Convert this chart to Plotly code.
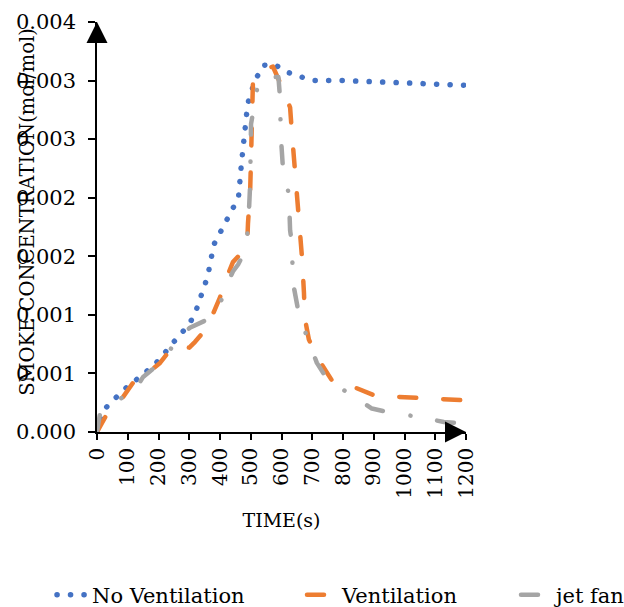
import plotly.graph_objects as go

# ---- data ----
t_no_vent = [0, 30, 60, 100, 150, 200, 250, 300, 320, 340, 360, 380, 400, 420, 440, 460,
             470, 480, 490, 505, 520, 540, 575, 620, 660, 700, 800, 900, 1000, 1100, 1200]
no_vent = [0, 0.00021, 0.00029, 0.00039, 0.00049, 0.00061, 0.00077, 0.00092, 0.00102, 0.00118,
           0.00133, 0.0016, 0.00171, 0.0018, 0.0019, 0.002, 0.0023, 0.0026, 0.0028, 0.00293,
           0.00303, 0.00313, 0.00314, 0.00307, 0.00303, 0.003, 0.003, 0.00299, 0.00298, 0.00297, 0.00296]

t_vent = [0, 42, 85, 117, 163, 205, 247, 300, 319, 358, 400, 410, 442, 488, 491, 498, 501, 504,
          507, 540, 572, 602, 628, 634, 644, 654, 660, 667, 673, 676, 689, 725, 764, 839, 904,
          982, 1057, 1132, 1200]
vent = [0, 0.0002, 0.0003, 0.00042, 0.0005, 0.00059, 0.00073, 0.00072, 0.00077, 0.00089, 0.00115,
        0.00124, 0.00145, 0.00158, 0.00178, 0.00205, 0.00235, 0.00265, 0.00298, 0.00309, 0.00312,
        0.00294, 0.00277, 0.00255, 0.00225, 0.00198, 0.00172, 0.00148, 0.00119, 0.00097, 0.00079,
        0.0006, 0.00044, 0.00038, 0.00031, 0.0003, 0.00029, 0.00028, 0.00027]

t_jet = [0, 10, 85, 117, 150, 215, 260, 302, 367, 400, 410, 426, 442, 459, 475, 488, 494, 498,
         501, 520, 540, 590, 595, 598, 605, 624, 628, 634, 637, 657, 686, 715, 751, 826, 894,
         963, 1047, 1128, 1200]
jet = [0, 0.00016, 0.0003, 0.00033, 0.00047, 0.00061, 0.00079, 0.00089, 0.00097, 0.0011, 0.00116,
       0.00128, 0.00137, 0.00143, 0.00151, 0.00166, 0.00188, 0.00211, 0.00263, 0.00292, 0.00303,
       0.00303, 0.00286, 0.00252, 0.00224, 0.00203, 0.00172, 0.00161, 0.00128, 0.001, 0.00079,
       0.00059, 0.00044, 0.00032, 0.0002, 0.00016, 0.00013, 0.000085, 0.00007]

y_tickvals = [0, 0.0005, 0.001, 0.0015, 0.002, 0.0025, 0.003, 0.0035]
y_ticktext = ["0.000", "0.001", "0.001", "0.002", "0.002", "0.003", "0.003", "0.004"]
x_tickvals = list(range(0, 1201, 100))

FONT = "DejaVu Serif"

fig = go.Figure()
fig.add_trace(go.Scatter(x=t_no_vent, y=no_vent, mode="lines", name="No Ventilation", legend="legend",
                         line=dict(color="#4472C4", width=5.5, dash="0.1px,13.4px")))
fig.add_trace(go.Scatter(x=t_vent, y=vent, mode="lines", name="Ventilation", legend="legend2",
                         line=dict(color="#ED7D31", width=4.5, dash="17px,27px")))
fig.add_trace(go.Scatter(x=t_jet, y=jet, mode="lines", name="jet fan", legend="legend3",
                         line=dict(color="#A5A5A5", width=4.5, dash="17px,28px,0.1px,27px")))


def leg(xpx):
    return dict(orientation="h", xref="container", x=xpx / 624, xanchor="left",
                yref="container", y=12 / 607, yanchor="middle",
                font=dict(size=21, family=FONT), bgcolor="rgba(0,0,0,0)")


fig.update_layout(
    width=624, height=607,
    margin=dict(l=97, r=158, t=22, b=175, autoexpand=False),
    paper_bgcolor="white", plot_bgcolor="white",
    font=dict(family=FONT, color="black", size=21),
    showlegend=True,
    legend=leg(52), legend2=leg(302), legend3=leg(516),
    xaxis=dict(range=[0, 1200], tickvals=x_tickvals, tickangle=-90, showgrid=False, zeroline=False,
               showline=True, linecolor="black", linewidth=1.5, ticks="outside", ticklen=6,
               tickwidth=1.5, tickcolor="black", tickfont=dict(size=20, family=FONT),
               automargin=False,
               title=dict(text="TIME(s)", font=dict(size=19, family=FONT), standoff=16)),
    yaxis=dict(range=[0, 0.0035], tickvals=y_tickvals, ticktext=y_ticktext, showgrid=False,
               zeroline=False, showline=True, linecolor="black", linewidth=1.5, ticks="outside",
               ticklen=7, tickwidth=1.5, tickcolor="black", tickfont=dict(size=21, family=FONT),
               ticklabelstandoff=8, automargin=False),
    annotations=[
        dict(text="SMOKE CONCENTRATION(mol/mol)", xref="paper", yref="paper", x=-0.187, y=0.537,
             xanchor="center", yanchor="middle", textangle=-90, showarrow=False,
             font=dict(size=19.5, family=FONT)),
        dict(x=0, y=0.0035, xref="x", yref="y", ax=0, ay=16, axref="pixel", ayref="pixel",
             showarrow=True, arrowhead=2, arrowsize=2.8, arrowwidth=1.5, arrowcolor="black", text=""),
        dict(x=1200, y=0, xref="x", yref="y", ax=-16, ay=0,
             showarrow=True, arrowhead=2, arrowsize=2.8, arrowwidth=1.5, arrowcolor="black", text=""),
    ],
)

post = ("var s=document.createElement('style');"
        "s.innerHTML='.js-line{stroke-linecap:round !important;stroke-linejoin:round !important}';"
        "document.head.appendChild(s);")
fig.write_html("out.html", post_script=post)
